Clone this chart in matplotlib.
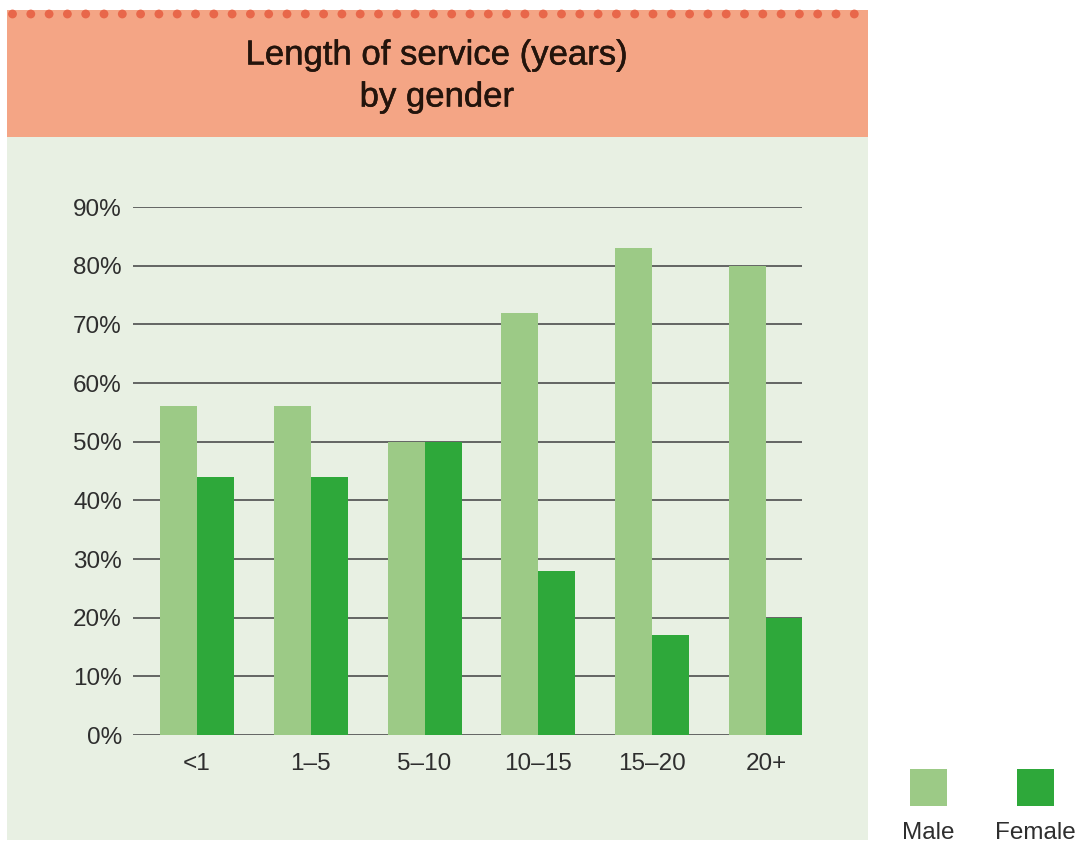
import matplotlib
matplotlib.use('Agg')
import matplotlib.pyplot as plt
import matplotlib.patheffects as pe
import numpy as np
from matplotlib.patches import Rectangle, Circle

# service length buckets and share of staff by gender (%)
categories = ['<1', '1–5', '5–10', '10–15', '15–20', '20+']
male = [56, 56, 50, 72, 83, 80]
female = [44, 44, 50, 28, 17, 20]
yticks = [0, 10, 20, 30, 40, 50, 60, 70, 80, 90]
ytick_labels = [f'{v}%' for v in yticks]
series_names = ['Male', 'Female']

C_MALE = '#9cca86'
C_FEMALE = '#2ea83a'
C_PANEL = '#e8f0e3'
C_HEAD = '#f4a585'
C_DOT = '#e8674a'
C_TEXT = '#2e2e2e'
C_TITLE = '#23140c'

plt.rcParams['font.family'] = ['Liberation Sans', 'DejaVu Sans']

W, H = 1081, 842
fig = plt.figure(figsize=(W / 100, H / 100), dpi=100)

# backdrop drawn in pixel coordinates
bg = fig.add_axes([0, 0, 1, 1], zorder=0)
bg.set_xlim(0, W)
bg.set_ylim(H, 0)
bg.axis('off')
bg.add_patch(Rectangle((7, 137), 861, 703, color=C_PANEL, lw=0))
bg.add_patch(Rectangle((7, 10), 861, 127, color=C_HEAD, lw=0))
for x in np.arange(12.5, 868, 18.3):
    bg.add_patch(Circle((x, 14), 4.4, color=C_DOT, lw=0))
thick = [pe.withStroke(linewidth=0.35, foreground=C_TITLE)]
bg.text(437, 55, 'Length of service (years)', ha='center', va='center',
        fontsize=25, color=C_TITLE, path_effects=thick)
bg.text(437, 97, 'by gender', ha='center', va='center',
        fontsize=25, color=C_TITLE, path_effects=thick)

# legend: swatches with labels underneath
for cx, name, col in [(928.5, series_names[0], C_MALE), (1035.5, series_names[1], C_FEMALE)]:
    bg.add_patch(Rectangle((cx - 18.5, 769), 37, 37, color=col, lw=0))
    bg.text(cx, 833, name, ha='center', va='center', fontsize=17.5, color=C_TEXT)

ax = fig.add_axes([133 / W, 1 - 735 / H, (802 - 133) / W, (735 - 207) / H], zorder=1)
ax.patch.set_alpha(0)
x = np.arange(len(categories))
w = 0.325
ax.bar(x - w / 2, male, w, color=C_MALE, zorder=3, linewidth=0)
ax.bar(x + w / 2, female, w, color=C_FEMALE, zorder=3, linewidth=0)
ax.set_xlim(-0.562, 5.316)
ax.set_ylim(0, 90)
ax.set_yticks(yticks)
ax.set_yticklabels(ytick_labels)
ax.set_xticks(x)
ax.set_xticklabels(categories)
for v in yticks:
    ax.axhline(v, color='#4d4d4d', lw=1.2, zorder=1)
for s in ax.spines.values():
    s.set_visible(False)
ax.tick_params(length=0, labelsize=17.5, labelcolor=C_TEXT)
ax.tick_params(axis='y', pad=8)
ax.tick_params(axis='x', pad=13)

fig.savefig('out.png', dpi=100)
